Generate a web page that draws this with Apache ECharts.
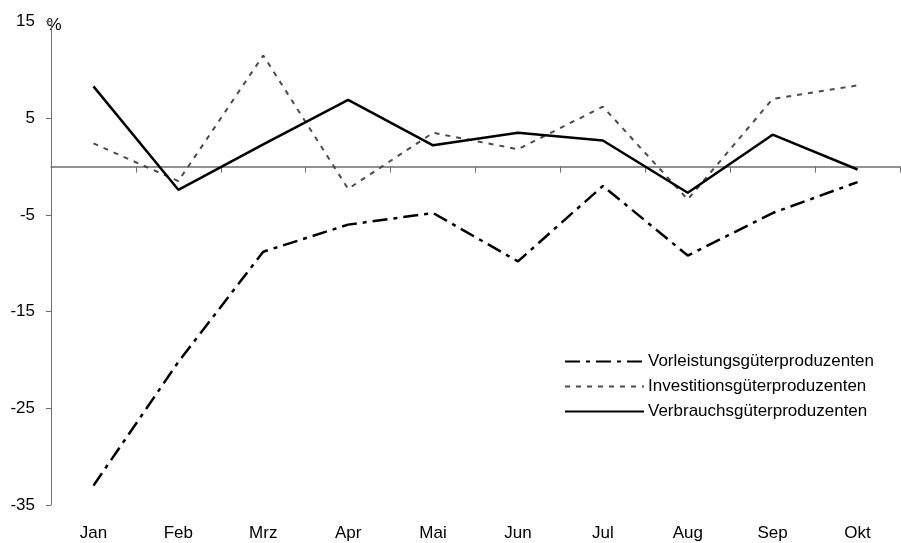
<!DOCTYPE html>
<html>
<head>
<meta charset="utf-8">
<script src="https://cdn.jsdelivr.net/npm/echarts@6/dist/echarts.min.js"></script>
<style>
  html, body { margin: 0; padding: 0; background: #fff; }
  #chart { width: 901px; height: 543px; }
</style>
</head>
<body>
<div id="chart"></div>
<script>
// Monthly changes in %
const months = ['Jan', 'Feb', 'Mrz', 'Apr', 'Mai', 'Jun', 'Jul', 'Aug', 'Sep', 'Okt']
const vorleistung = [-33.0, -20.2, -8.8, -6.0, -4.8, -9.8, -2.0, -9.2, -4.8, -1.6]
const investition = [2.4, -1.5, 11.5, -2.3, 3.5, 1.8, 6.2, -3.4, 7.0, 8.4]
const verbrauch = [8.3, -2.4, 2.3, 6.9, 2.2, 3.5, 2.7, -2.7, 3.3, -0.3]
const seriesNames = ['Vorleistungsgüterproduzenten', 'Investitionsgüterproduzenten', 'Verbrauchsgüterproduzenten']

const font = 'Liberation Sans, Arial, sans-serif'
const fontSize = 17
const chart = echarts.init(document.getElementById('chart'))

chart.setOption({
  animation: false,
  backgroundColor: '#fff',
  textStyle: { fontFamily: font },
  grid: {
    left: 51,
    right: 1,
    top: 21.6,
    bottom: 38
  },
  legend: {
    orient: 'vertical',
    left: 559,
    top: 348,
    itemWidth: 79,
    itemHeight: 17,
    itemGap: 8,
    itemStyle: { opacity: 0 }, // hide the symbol, keep the line sample
    textStyle: { color: '#000', fontSize: fontSize, lineHeight: 17, fontFamily: font, padding: [0, 0, 0, -1] },
    data: seriesNames
  },
  xAxis: [
    {
      // labels at the bottom
      type: 'category',
      data: months,
      position: 'bottom',
      axisLine: { show: false, onZero: false },
      axisTick: { show: false },
      axisLabel: { color: '#000', fontSize: fontSize, margin: 20 }
    },
    {
      // line on zero with ticks
      type: 'category',
      data: months,
      position: 'bottom',
      axisLine: { onZero: true, lineStyle: { color: '#6e6e6e', width: 1.5 } },
      axisTick: { show: true, length: 6, lineStyle: { color: '#6e6e6e' } },
      axisLabel: { show: false }
    }
  ],
  yAxis: {
    type: 'value',
    min: -35,
    max: 15,
    interval: 10,
    name: '%',
    nameLocation: 'end',
    nameGap: -12,
    nameTextStyle: { color: '#000', fontSize: fontSize, padding: [0, 0, 0, 6] },
    splitLine: { show: false },
    axisLine: { show: true, lineStyle: { color: '#6e6e6e', width: 1 } },
    axisTick: { show: true, length: 5, lineStyle: { color: '#6e6e6e' } },
    axisLabel: { color: '#000', fontSize: fontSize, margin: 16 }
  },
  series: [
    {
      name: seriesNames[0],
      type: 'line',
      symbol: 'none',
      data: vorleistung,
      lineStyle: { color: '#000', width: 2.5, type: [15, 6, 4, 6] },
      itemStyle: { color: '#000' }
    },
    {
      name: seriesNames[1],
      type: 'line',
      symbol: 'none',
      data: investition,
      lineStyle: { color: '#4a4a4a', width: 2, type: [5, 6] },
      itemStyle: { color: '#4a4a4a' }
    },
    {
      name: seriesNames[2],
      type: 'line',
      symbol: 'none',
      data: verbrauch,
      lineStyle: { color: '#000', width: 2.5, type: 'solid' },
      itemStyle: { color: '#000' }
    }
  ]
})
</script>
</body>
</html>
